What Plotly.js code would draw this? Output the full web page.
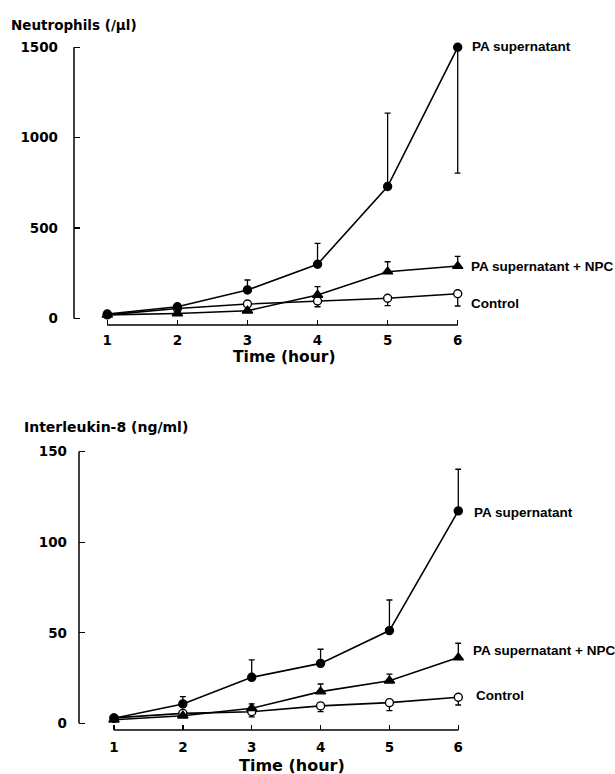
<!DOCTYPE html>
<html>
<head>
<meta charset="utf-8">
<script src="https://cdn.plot.ly/plotly-3.0.1.min.js"></script>
<style>html,body{margin:0;padding:0;background:#fff;}#chart{width:615px;height:774px;}</style>
</head>
<body>
<div id="chart"></div>
<script>
// ---------- data ----------
const hours = [1, 2, 3, 4, 5, 6];
const xTickLabels = ['1', '2', '3', '4', '5', '6'];

// Neutrophils (/µl)
const neuPA      = [25, 65, 158, 300, 730, 1500];
const neuPAUp    = [0, 10, 55, 116, 406, 0];
const neuPADown  = [0, 0, 0, 0, 0, 696];
const neuNPC     = [20, 28, 43, 130, 259, 290];
const neuNPCUp   = [0, 0, 0, 46, 55, 54];
const neuCtl     = [20, 55, 80, 97, 112, 137];
const neuCtlDown = [0, 0, 0, 32, 41, 68];
const neuTicks   = [0, 500, 1000, 1500];

// Interleukin-8 (ng/ml)
const ilPA       = [2.8, 10.7, 25.4, 33.1, 51.2, 117.3];
const ilPAUp     = [0, 4, 9.6, 7.8, 16.9, 23];
const ilNPC      = [2, 4.2, 8.3, 17.5, 23.5, 36.3];
const ilNPCUp    = [0, 0, 2.4, 4.2, 3.7, 7.9];
const ilCtl      = [3, 5.5, 6.4, 9.6, 11.4, 14.4];
const ilCtlDown  = [0, 0, 2.8, 3.2, 4.4, 4.3];
const ilTicks    = [0, 50, 100, 150];

const seriesNames = ['PA supernatant', 'PA supernatant + NPC', 'Control'];

(function () {
const W = 615, H = 774;
const px = v => v / W;
const py = v => 1 - v / H;
const FONT = 'Liberation Sans, Arial, Helvetica, sans-serif';
const WIDE = 'DejaVu Sans, Verdana, sans-serif';
const zeros = hours.map(() => 0);

function trace(y, up, down, sym, fill, xa, ya, name) {
  return {
    x: hours, y: y, xaxis: xa, yaxis: ya, name: name,
    type: 'scatter', mode: 'lines+markers', cliponaxis: false,
    line: {color: '#000', width: 1.6},
    marker: {symbol: sym, size: sym === 'triangle-up' ? 9 : 8, color: fill,
             line: {color: '#000', width: 1.4}},
    error_y: {type: 'data', symmetric: false, array: up, arrayminus: down,
              color: '#000', thickness: 1.3, width: 3},
    showlegend: false, hoverinfo: 'x+y'
  };
}

const data = [
  trace(neuCtl, zeros, neuCtlDown, 'circle', '#fff', 'x', 'y', seriesNames[2]),
  trace(neuNPC, neuNPCUp, zeros, 'triangle-up', '#000', 'x', 'y', seriesNames[1]),
  trace(neuPA, neuPAUp, neuPADown, 'circle', '#000', 'x', 'y', seriesNames[0]),
  trace(ilCtl, zeros, ilCtlDown, 'circle', '#fff', 'x2', 'y2', seriesNames[2]),
  trace(ilNPC, ilNPCUp, zeros, 'triangle-up', '#000', 'x2', 'y2', seriesNames[1]),
  trace(ilPA, ilPAUp, zeros, 'circle', '#000', 'x2', 'y2', seriesNames[0])
];

const tickFont = {family: WIDE, size: 13.5, color: '#000', weight: 'bold'};
const EXT = 3; // extra pixels beyond end ticks so inside end ticks are kept

function panel(yAxX, x1px, x6px, y0px, yTopPx, xAxY, yRange, yTicks, xId, yId, xStand, yStand) {
  const xPerUnit = (x6px - x1px) / (hours[hours.length - 1] - hours[0]);
  const xMin = hours[0] - (x1px - yAxX) / xPerUnit;
  const xMax = hours[hours.length - 1] + EXT / xPerUnit;
  const yPerUnit = (y0px - yTopPx) / (yRange[1] - yRange[0]);
  const yMin = yRange[0] - (xAxY - y0px) / yPerUnit;
  const yMax = yRange[1] + EXT / yPerUnit;
  const xa = {
    domain: [px(yAxX), px(x6px + EXT)], anchor: yId,
    range: [xMin, xMax], tickvals: hours, ticktext: xTickLabels,
    showline: false, ticks: 'inside', ticklen: 5, tickwidth: 1.3, tickcolor: '#000',
    showgrid: false, zeroline: false, tickfont: tickFont, ticklabelstandoff: xStand
  };
  const ya = {
    domain: [py(xAxY), py(yTopPx - EXT)], anchor: xId,
    range: [yMin, yMax], tickvals: yTicks, ticktext: yTicks.map(String),
    showline: false, ticks: 'inside', ticklen: 6, tickwidth: 1.3, tickcolor: '#000',
    showgrid: false, zeroline: false, tickfont: tickFont, ticklabelstandoff: yStand
  };
  return {xa, ya, xAxY};
}

const pTop = panel(74, 107.3, 457.7, 318.5, 47.3, 325, [0, 1500], neuTicks, 'x', 'y', 5, 15);
const pBot = panel(79, 114, 458.3, 723.3, 451.7, 730, [0, 150], ilTicks, 'x2', 'y2', 7, 11);

function axisLines(xr, yr, yTicks, xAxY) {
  return [
    {type: 'line', xref: xr, yref: 'paper', x0: hours[0], x1: hours[hours.length - 1],
     y0: py(xAxY), y1: py(xAxY), line: {color: '#000', width: 1.5}},
    {type: 'line', xref: xr + ' domain', yref: yr, x0: 0, x1: 0,
     y0: yTicks[0], y1: yTicks[yTicks.length - 1], line: {color: '#000', width: 1.5}}
  ];
}

function ann(text, x, y, size, family, xanchor) {
  return {
    text: '<b>' + text + '</b>', font: {family: family, size: size, color: '#000'},
    xref: 'paper', yref: 'paper', x: px(x), y: py(y),
    xanchor: xanchor || 'left', yanchor: 'middle', showarrow: false
  };
}

const layout = {
  width: W, height: H,
  margin: {l: 0, r: 0, t: 0, b: 0},
  paper_bgcolor: '#fff', plot_bgcolor: 'rgba(0,0,0,0)',
  showlegend: false,
  xaxis: pTop.xa, yaxis: pTop.ya,
  xaxis2: pBot.xa, yaxis2: pBot.ya,
  shapes: axisLines('x', 'y', neuTicks, pTop.xAxY).concat(axisLines('x2', 'y2', ilTicks, pBot.xAxY)),
  annotations: [
    ann('Neutrophils (/µl)', 9, 25, 13.5, WIDE),
    ann('Time (hour)', 284, 357, 15.5, WIDE, 'center'),
    ann(seriesNames[0], 470, 46, 13.5, FONT),
    ann(seriesNames[1], 469, 267, 13.5, FONT),
    ann(seriesNames[2], 469, 303, 13.5, FONT),
    ann('Interleukin-8 (ng/ml)', 22, 427, 14, WIDE),
    ann('Time (hour)', 292, 765, 16, WIDE, 'center'),
    ann(seriesNames[0], 472, 512, 13.5, FONT),
    ann(seriesNames[1], 471, 650, 13.5, FONT),
    ann(seriesNames[2], 474, 695, 13.5, FONT)
  ]
};

Plotly.newPlot('chart', data, layout, {staticPlot: true, displayModeBar: false});
})();
</script>
</body>
</html>
